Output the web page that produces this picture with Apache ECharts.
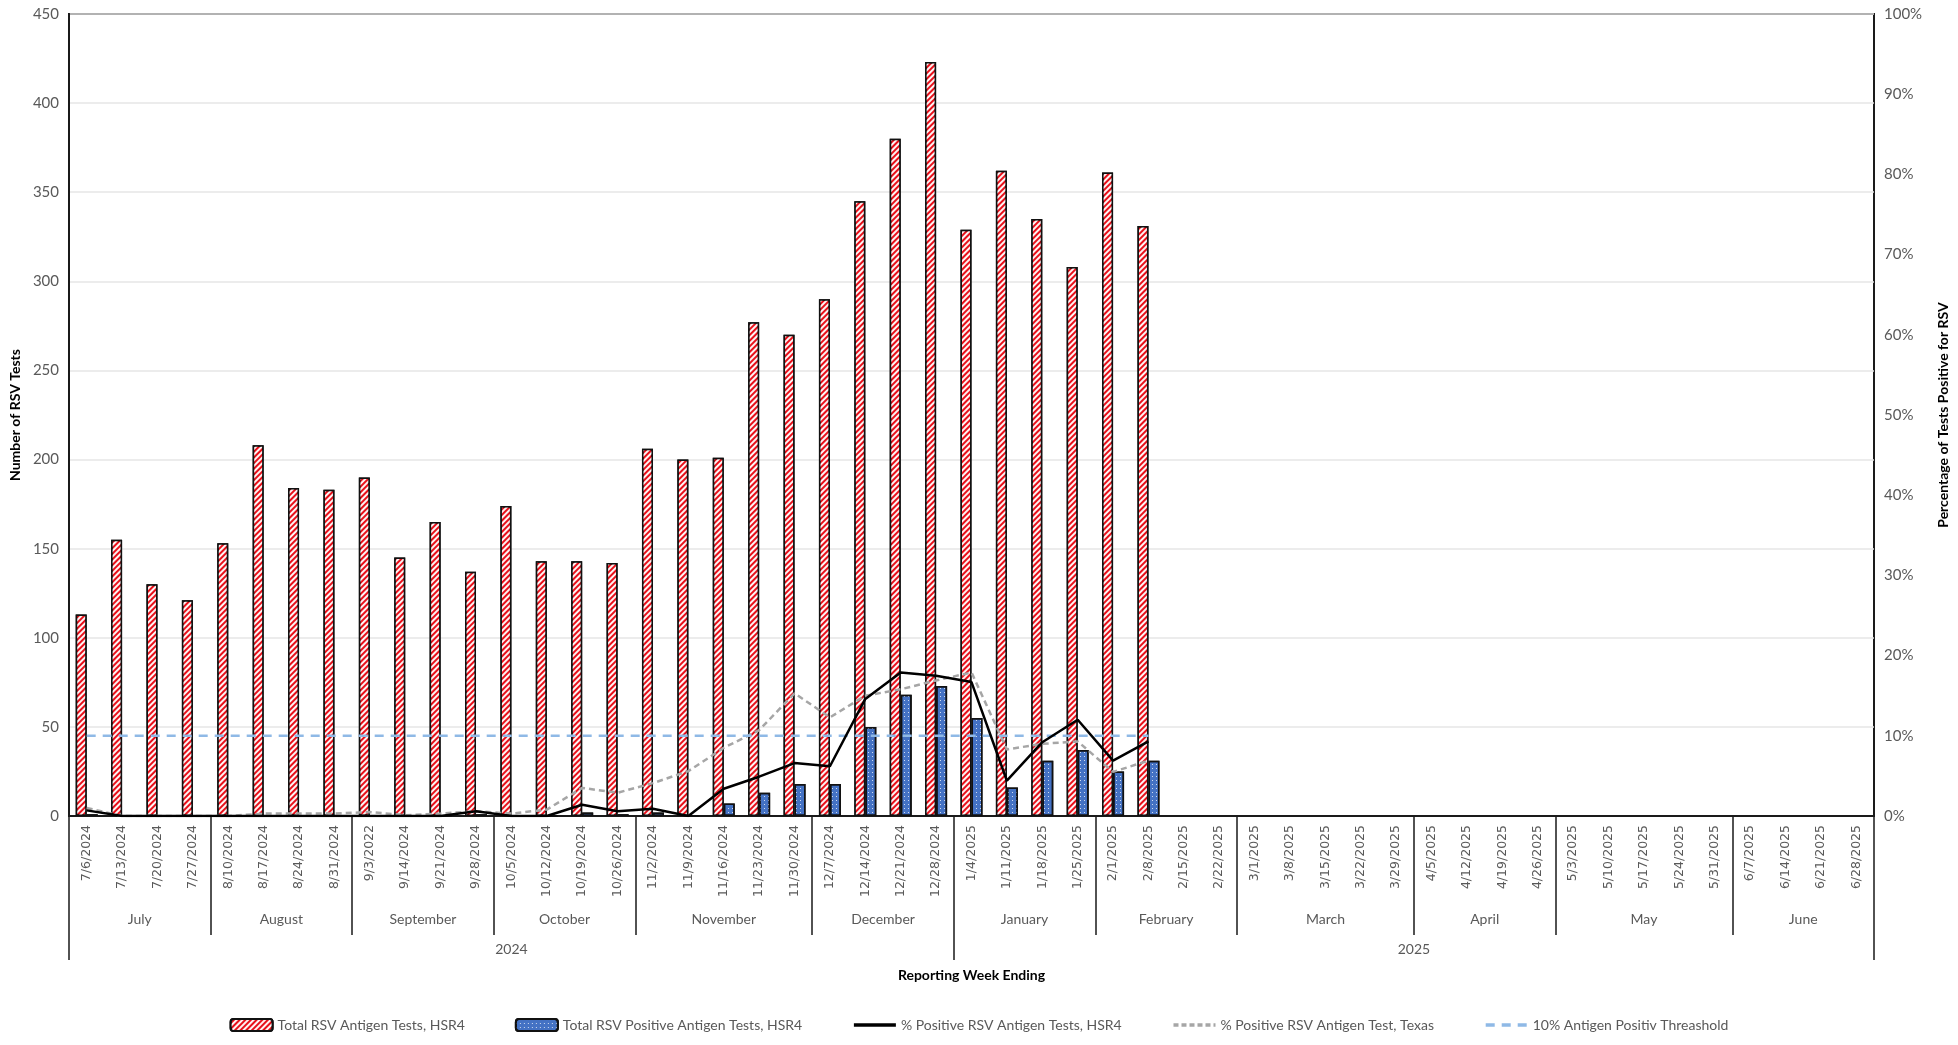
<!DOCTYPE html>
<html>
<head>
<meta charset="utf-8">
<script src="https://cdn.jsdelivr.net/npm/echarts@6/dist/echarts.min.js"></script>
<style>
  html, body { margin: 0; padding: 0; background: #fff; }
  #main { width: 1958px; height: 1045px; }
</style>
</head>
<body>
<div id="main"></div>
<script>
var weeks = ['7/6/2024', '7/13/2024', '7/20/2024', '7/27/2024', '8/10/2024', '8/17/2024', '8/24/2024', '8/31/2024',
  '9/3/2022', '9/14/2024', '9/21/2024', '9/28/2024', '10/5/2024', '10/12/2024', '10/19/2024', '10/26/2024',
  '11/2/2024', '11/9/2024', '11/16/2024', '11/23/2024', '11/30/2024', '12/7/2024', '12/14/2024', '12/21/2024', '12/28/2024',
  '1/4/2025', '1/11/2025', '1/18/2025', '1/25/2025', '2/1/2025', '2/8/2025', '2/15/2025', '2/22/2025',
  '3/1/2025', '3/8/2025', '3/15/2025', '3/22/2025', '3/29/2025', '4/5/2025', '4/12/2025', '4/19/2025', '4/26/2025',
  '5/3/2025', '5/10/2025', '5/17/2025', '5/24/2025', '5/31/2025', '6/7/2025', '6/14/2025', '6/21/2025', '6/28/2025'];

var monthNames = ['July', 'August', 'September', 'October', 'November', 'December', 'January', 'February', 'March', 'April', 'May', 'June'];
var monthEdges = [0, 4, 8, 12, 16, 21, 25, 29, 33, 38, 42, 47, 51];
var yearNames = ['2024', '2025'];
var yearEdges = [0, 25, 51];

// weekly counts, HSR4 (7/6/2024 .. 2/8/2025)
var totalTests = [113, 155, 130, 121, 153, 208, 184, 183, 190, 145, 165, 137, 174, 143, 143, 142,
  206, 200, 201, 277, 270, 290, 345, 380, 423, 329, 362, 335, 308, 361, 331];
var positiveTests = [1, 0, 0, 0, 0, 0, 0, 0, 0, 0, 0, 1, 0, 0, 2, 1,
  2, 0, 7, 13, 18, 18, 50, 68, 73, 55, 16, 31, 37, 25, 31];
// percent positive
var pctHSR4 = [0.7, 0, 0, 0, 0, 0, 0, 0, 0, 0, 0, 0.6, 0, 0, 1.4, 0.6,
  0.9, 0, 3.4, 4.9, 6.6, 6.2, 14.6, 17.9, 17.5, 16.7, 4.4, 9.2, 12.0, 6.9, 9.3];
var pctTexas = [1.0, 0, 0, 0, 0, 0.3, 0.3, 0.3, 0.5, 0.1, 0.3, 0.6, 0.3, 0.8, 3.5, 2.9,
  4.1, 5.6, 8.5, 10.7, 15.3, 12.3, 15.0, 15.8, 16.9, 17.9, 8.3, 9.0, 9.3, 5.5, 6.9];
var threshold = [10, 10, 10, 10, 10, 10, 10, 10, 10, 10, 10, 10, 10, 10, 10, 10,
  10, 10, 10, 10, 10, 10, 10, 10, 10, 10, 10, 10, 10, 10, 10];

var leftTicks = [0, 50, 100, 150, 200, 250, 300, 350, 400, 450];
var rightTicks = ['0%', '10%', '20%', '30%', '40%', '50%', '60%', '70%', '80%', '90%', '100%'];

var txtFont = 'Lato, "Open Sans", sans-serif';
var grayTxt = '#595959';

function centers(edges) {
  var res = [];
  for (var i = 0; i < edges.length - 1; i++) {
    res.push((edges[i] + edges[i + 1]) / 2);
  }
  return res;
}
var monthCenters = centers(monthEdges);
var yearCenters = centers(yearEdges);

var chart = echarts.init(document.getElementById('main'));

// line legend entries: hide the marker dot, keep only the stroke
var noDot = { opacity: 0 };

option = {
  animation: false,
  grid: {
    left: 66,
    right: 84,
    top: 14,
    bottom: 229,
    show: true,
    borderColor: '#1a1a1a',
    borderWidth: 2
  },
  legend: {
    bottom: 8,
    left: 'center',
    itemGap: 50,
    itemWidth: 42,
    itemHeight: 12,
    textStyle: { fontFamily: txtFont, fontSize: 14, color: grayTxt },
    data: [
      { name: 'Total RSV Antigen Tests, HSR4' },
      { name: 'Total RSV Positive Antigen Tests, HSR4' },
      { name: '% Positive RSV Antigen Tests, HSR4', itemStyle: noDot, lineStyle: { width: 3.5 } },
      { name: '% Positive RSV Antigen Test, Texas', itemStyle: noDot, lineStyle: { width: 3.5, type: [5, 3] } },
      { name: '10% Antigen Positiv Threashold', itemStyle: noDot, lineStyle: { width: 3.5, type: [9, 7] } }
    ]
  },
  xAxis: [{
    type: 'category',
    data: weeks,
    boundaryGap: true,
    axisLine: { lineStyle: { color: '#1a1a1a', width: 2 } },
    axisTick: { show: false },
    axisLabel: {
      interval: 0,
      rotate: 90,
      margin: 9,
      fontFamily: '"DejaVu Sans", Verdana, sans-serif',
      fontSize: 12.5,
      color: grayTxt
    },
    splitLine: { show: false }
  }, {
    // month row
    type: 'value',
    position: 'bottom',
    min: 0,
    max: 51,
    axisLine: { show: false },
    splitLine: { show: false },
    axisTick: {
      show: true,
      customValues: monthEdges,
      length: 119,
      lineStyle: { color: '#1a1a1a', width: 1.5 }
    },
    axisLabel: {
      customValues: monthCenters,
      margin: 96,
      fontFamily: txtFont,
      fontSize: 14,
      color: grayTxt,
      formatter: function (v) {
        return monthNames[monthCenters.indexOf(v)];
      }
    }
  }, {
    // year row
    type: 'value',
    position: 'bottom',
    min: 0,
    max: 51,
    name: 'Reporting Week Ending',
    nameLocation: 'middle',
    nameGap: 152,
    nameTextStyle: { fontFamily: txtFont, fontSize: 14, fontWeight: 'bold', color: '#000' },
    axisLine: { show: false },
    splitLine: { show: false },
    axisTick: {
      show: true,
      customValues: yearEdges,
      length: 144,
      lineStyle: { color: '#1a1a1a', width: 1.5 }
    },
    axisLabel: {
      customValues: yearCenters,
      margin: 126,
      fontFamily: txtFont,
      fontSize: 14,
      color: grayTxt,
      formatter: function (v) {
        return yearNames[yearCenters.indexOf(v)];
      }
    }
  }],
  yAxis: [{
    type: 'value',
    min: leftTicks[0],
    max: leftTicks[leftTicks.length - 1],
    interval: 50,
    name: 'Number of RSV Tests',
    nameLocation: 'middle',
    nameGap: 44,
    nameTextStyle: { fontFamily: txtFont, fontSize: 14, fontWeight: 'bold', color: '#000' },
    axisLine: { show: true, lineStyle: { color: '#1a1a1a', width: 2 } },
    axisTick: { show: false },
    axisLabel: { fontFamily: txtFont, fontSize: 15, color: grayTxt, margin: 10 },
    splitLine: { lineStyle: { color: '#e6e6e6', width: 1.5 } }
  }, {
    type: 'value',
    min: 0,
    max: 100,
    interval: 10,
    name: 'Percentage of Tests Positive for RSV',
    nameLocation: 'middle',
    nameGap: 62,
    nameTextStyle: { fontFamily: txtFont, fontSize: 14, fontWeight: 'bold', color: '#000' },
    axisLine: { show: true, lineStyle: { color: '#1a1a1a', width: 2 } },
    axisTick: { show: false },
    axisLabel: {
      fontFamily: txtFont, fontSize: 15, color: grayTxt, margin: 10,
      formatter: function (v) { return rightTicks[Math.round(v / 10)]; }
    },
    splitLine: { show: false }
  }],
  series: [{
    name: 'Total RSV Antigen Tests, HSR4',
    type: 'bar',
    xAxisIndex: 0,
    yAxisIndex: 0,
    barWidth: 11,
    barGap: '0%',
    data: totalTests,
    itemStyle: {
      color: '#e8101a',
      borderColor: '#111',
      borderWidth: 1.5,
      decal: {
        symbol: 'rect',
        symbolSize: 1,
        color: 'rgba(255,255,255,0.95)',
        dashArrayX: [1, 0],
        dashArrayY: [2, 2],
        rotation: -Math.PI / 4
      }
    }
  }, {
    name: 'Total RSV Positive Antigen Tests, HSR4',
    type: 'bar',
    xAxisIndex: 0,
    yAxisIndex: 0,
    barWidth: 11,
    barGap: '0%',
    data: positiveTests,
    itemStyle: {
      color: '#4472c4',
      borderColor: '#111',
      borderWidth: 1.5,
      decal: {
        symbol: 'rect',
        symbolSize: 1,
        color: 'rgba(255,255,255,0.75)',
        dashArrayX: [1, 3],
        dashArrayY: [1, 3],
        rotation: 0
      }
    }
  }, {
    name: '% Positive RSV Antigen Tests, HSR4',
    type: 'line',
    xAxisIndex: 0,
    yAxisIndex: 1,
    symbol: 'none',
    data: pctHSR4,
    z: 4,
    lineStyle: { color: '#000', width: 2.5 },
    itemStyle: { color: '#000' }
  }, {
    name: '% Positive RSV Antigen Test, Texas',
    type: 'line',
    xAxisIndex: 0,
    yAxisIndex: 1,
    symbol: 'none',
    data: pctTexas,
    z: 3,
    lineStyle: { color: '#a6a6a6', width: 2.5, type: [6, 4] },
    itemStyle: { color: '#a6a6a6' }
  }, {
    name: '10% Antigen Positiv Threashold',
    type: 'line',
    xAxisIndex: 0,
    yAxisIndex: 1,
    symbol: 'none',
    data: threshold,
    z: 3,
    lineStyle: { color: '#8fb9e6', width: 2.5, type: [9, 7] },
    itemStyle: { color: '#8fb9e6' }
  }]
};
chart.setOption(option);
</script>
</body>
</html>
